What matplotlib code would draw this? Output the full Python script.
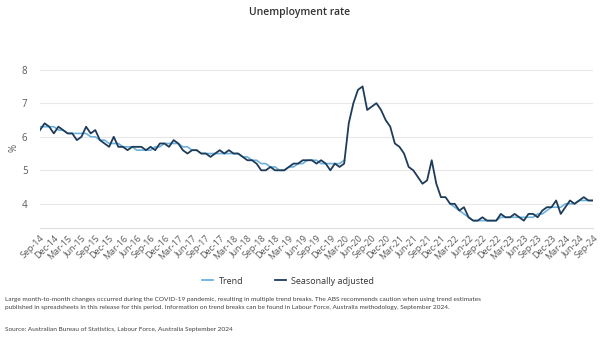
import numpy as np
import pandas as pd
import matplotlib
matplotlib.use("Agg")
import matplotlib.pyplot as plt
from matplotlib.lines import Line2D

plt.rcParams['font.family'] = ['Open Sans', 'DejaVu Sans']

months = pd.date_range("2014-09-01", "2024-09-01", freq="MS")

seasonally_adjusted = [
    6.2, 6.4, 6.3, 6.1, 6.3, 6.2, 6.1, 6.1, 5.9, 6.0, 6.3, 6.1,
    6.2, 5.9, 5.8, 5.7, 6.0, 5.7, 5.7, 5.6, 5.7, 5.7, 5.7, 5.6,
    5.7, 5.6, 5.8, 5.8, 5.7, 5.9, 5.8, 5.6, 5.5, 5.6, 5.6, 5.5,
    5.5, 5.4, 5.5, 5.6, 5.5, 5.6, 5.5, 5.5, 5.4, 5.3, 5.3, 5.2,
    5.0, 5.0, 5.1, 5.0, 5.0, 5.0, 5.1, 5.2, 5.2, 5.3, 5.3, 5.3,
    5.2, 5.3, 5.2, 5.0, 5.2, 5.1, 5.2, 6.4, 7.0, 7.4, 7.5, 6.8,
    6.9, 7.0, 6.8, 6.5, 6.3, 5.8, 5.7, 5.5, 5.1, 5.0, 4.8, 4.6,
    4.7, 5.3, 4.6, 4.2, 4.2, 4.0, 4.0, 3.8, 3.9, 3.6, 3.5, 3.5,
    3.6, 3.5, 3.5, 3.5, 3.7, 3.6, 3.6, 3.7, 3.6, 3.5, 3.7, 3.7,
    3.6, 3.8, 3.9, 3.9, 4.1, 3.7, 3.9, 4.1, 4.0, 4.1, 4.2, 4.1,
    4.1,
]

nan = np.nan
trend = [
    6.3, 6.3, 6.3, 6.3, 6.2, 6.2, 6.1, 6.1, 6.1, 6.1, 6.1, 6.0,
    6.0, 5.9, 5.9, 5.8, 5.8, 5.8, 5.7, 5.7, 5.7, 5.6, 5.6, 5.6,
    5.6, 5.7, 5.7, 5.8, 5.8, 5.8, 5.8, 5.7, 5.7, 5.6, 5.6, 5.5,
    5.5, 5.5, 5.5, 5.5, 5.5, 5.5, 5.5, 5.5, 5.4, 5.4, 5.3, 5.3,
    5.2, 5.2, 5.1, 5.1, 5.0, 5.0, 5.1, 5.1, 5.2, 5.2, 5.3, 5.3,
    5.3, 5.2, 5.2, 5.2, 5.2, 5.2, 5.3, nan, nan, nan, nan, nan,
    nan, nan, nan, nan, nan, nan, nan, nan, nan, nan, nan, nan,
    nan, nan, nan, nan, nan, 4.0, 3.9, 3.8, 3.7, 3.6, 3.5, 3.5,
    3.5, 3.5, 3.5, 3.5, 3.6, 3.6, 3.6, 3.6, 3.6, 3.6, 3.6, 3.6,
    3.7, 3.7, 3.8, 3.9, 3.9, 3.9, 4.0, 4.0, 4.0, 4.1, 4.1, 4.1,
    4.1,
]

tick_labels = [m.strftime("%b-%y") for m in months[::3]]
y_ticks = [4, 5, 6, 7, 8]

trend_color = "#6cb2dc"
sa_color = "#1e3c5a"
text_color = "#404040"

fig = plt.figure(figsize=(6, 3.45), dpi=100)
ax = fig.add_axes([40 / 600, 1 - 228 / 345, 553 / 600, 160 / 345])

x = np.arange(len(months))
ax.plot(x, trend, color=trend_color, lw=1.2, zorder=2)
ax.plot(x, seasonally_adjusted, color=sa_color, lw=1.3, zorder=3)

ax.set_xlim(0, len(months) - 1)
ax.set_ylim(3.28, 8.05)
ax.set_yticks(y_ticks)
ax.set_yticklabels([str(v) for v in y_ticks], fontsize=7, color="#595959")
ax.set_xticks(x[::3])
ax.set_xticklabels(tick_labels, rotation=45, ha="right", rotation_mode="anchor",
                   fontsize=6.5, color="#595959")
ax.tick_params(axis="both", length=0, pad=4)
ax.tick_params(axis="y", pad=9)
ax.grid(axis="y", color="#e8e8e8", lw=0.8, zorder=0)
for side in ["top", "right", "left"]:
    ax.spines[side].set_visible(False)
ax.spines["bottom"].set_color("#dcdcdc")
ax.set_ylabel("%", fontsize=7, color="#595959", labelpad=2)

fig.text(0.5, 1 - 12 / 345, "Unemployment rate", ha="center", va="center",
         fontsize=7.5, fontweight="semibold", color="#333333")

handles = [Line2D([], [], color=trend_color, lw=1.3),
           Line2D([], [], color=sa_color, lw=1.3)]
fig.legend(handles, ["Trend", "Seasonally adjusted"], loc="center",
           bbox_to_anchor=(0.48, 1 - 281 / 345), ncol=2, frameon=False,
           fontsize=6.5, handlelength=1.2, handletextpad=0.6, columnspacing=3.5,
           labelcolor="#333333")

note = ("Large month-to-month changes occurred during the COVID-19 pandemic, resulting in multiple trend breaks. "
        "The ABS recommends caution when using trend estimates\n"
        "published in spreadsheets in this release for this period. Information on trend breaks can be found in "
        "Labour Force, Australia methodology, September 2024.")
fig.text(5 / 600, 1 - 297 / 345, note, ha="left", va="top", fontsize=4.65,
         family=["Lato", "DejaVu Sans"], color=text_color, linespacing=1.65)
fig.text(5 / 600, 1 - 330 / 345, "Source: Australian Bureau of Statistics, Labour Force, Australia September 2024",
         ha="left", va="center", fontsize=4.65, family=["Lato", "DejaVu Sans"], color=text_color)

fig.savefig("out.png", dpi=100)
